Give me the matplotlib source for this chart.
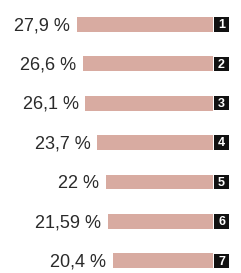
import matplotlib
matplotlib.use('Agg')
import matplotlib.pyplot as plt

values = [27.9, 26.6, 26.1, 23.7, 22, 21.59, 20.4]
labels = ['27,9 %', '26,6 %', '26,1 %', '23,7 %', '22 %', '21,59 %', '20,4 %']
ranks = ['1', '2', '3', '4', '5', '6', '7']

bar_col = '#d8aba1'

fig = plt.figure(figsize=(2.41, 2.73), dpi=100)
ax = fig.add_axes([0, 0, 1, 1])

y = list(range(len(values)))
ax.barh(y, values, height=0.38, color=bar_col, left=0)

# rank boxes on the right of every bar
box_w = 3.1
ax.barh(y, [-box_w] * len(y), left=-0.2, height=0.37, color='#111111')
for i, v in enumerate(values):
    ax.text(v + 1.4, i + 0.03, labels[i], ha='right', va='center', fontsize=13,
            family='Liberation Sans', color='#2a2a2a')
    ax.text(-0.2 - box_w / 2, i + 0.02, ranks[i], ha='center', va='center',
            fontsize=9, fontweight='bold', color='white', family='Liberation Sans')

ax.set_xlim(43.6, -5.74)
ax.set_ylim(6.31, -0.62)
ax.axis('off')

fig.savefig('out.png', dpi=100)
